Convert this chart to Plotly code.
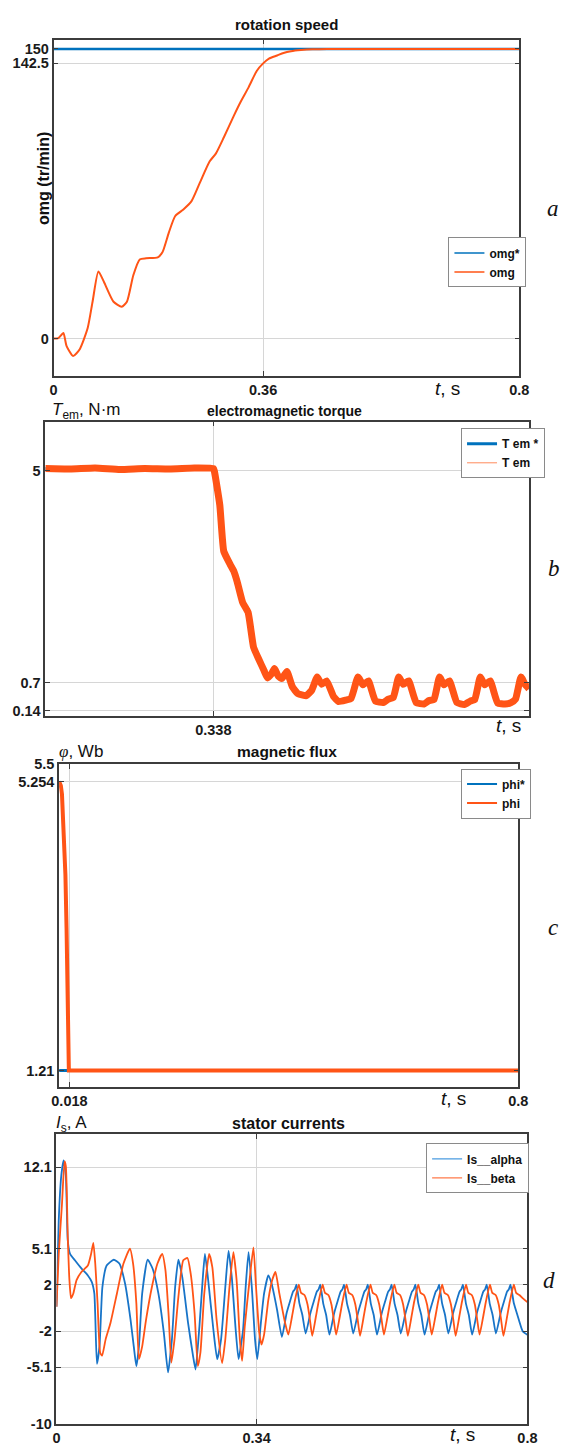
import plotly.graph_objects as go

W, H = 570, 1450


def fx(px):
    return px / W


def fy(py):
    return 1 - py / H


# ------------------------------------------------------------------ data
# (a) rotation speed
omg_ref_t = [0.0, 0.8]
omg_ref = [150, 150]
omg_t = [0.0, 0.0084, 0.0168, 0.0224, 0.0335, 0.0447, 0.0586, 0.067, 0.077, 0.0866,
         0.103, 0.117, 0.126, 0.137, 0.148, 0.159, 0.179, 0.187, 0.198, 0.209,
         0.223, 0.237, 0.251, 0.268, 0.279, 0.293, 0.310, 0.321, 0.335, 0.349,
         0.360, 0.370, 0.384, 0.395, 0.408, 0.425, 0.445, 0.47, 0.55, 0.65, 0.8]
omg = [0.0, 0.3, 2.9, -3.9, -9.0, -5.6, 5.5, 19.1, 34.8, 29.3,
       19.1, 16.5, 19.1, 32.8, 41.0, 41.6, 42.1, 44.7, 54.9, 63.5,
       66.9, 71.2, 80.5, 91.7, 95.9, 104.5, 115.6, 122.4, 130.1, 138.6,
       142.5, 145.0, 146.6, 147.9, 148.8, 149.4, 149.8, 150.0, 150.0, 150.0, 150.0]

# (b) electromagnetic torque
tem_t = [0, 0.05, 0.10, 0.15, 0.20, 0.25, 0.30, 0.338,
         0.340, 0.351, 0.359, 0.372, 0.379, 0.386, 0.397, 0.408, 0.419, 0.429,
         0.440, 0.447, 0.455, 0.461, 0.469, 0.476, 0.486, 0.497, 0.508, 0.518,
         0.525, 0.536, 0.547, 0.556, 0.566, 0.580, 0.590, 0.605, 0.615, 0.629,
         0.639, 0.650, 0.664, 0.680, 0.690, 0.700, 0.711, 0.720, 0.731, 0.746,
         0.762, 0.772, 0.782, 0.793, 0.802, 0.813, 0.828, 0.843, 0.855, 0.864,
         0.875, 0.884, 0.895, 0.910, 0.925, 0.937, 0.946, 0.957, 0.965, 0.973]
tem = [5.05, 5.04, 5.06, 5.03, 5.05, 5.04, 5.06, 5.05,
       5.0, 4.31, 3.37, 3.10, 2.97, 2.75, 2.33, 2.13, 1.42, 1.19,
       0.95, 0.80, 0.88, 0.99, 0.83, 0.79, 0.93, 0.62, 0.48, 0.45,
       0.44, 0.55, 0.82, 0.67, 0.74, 0.42, 0.32, 0.35, 0.38, 0.82,
       0.66, 0.74, 0.33, 0.30, 0.37, 0.40, 0.82, 0.67, 0.74, 0.30,
       0.27, 0.34, 0.36, 0.82, 0.66, 0.74, 0.30, 0.26, 0.33, 0.36,
       0.82, 0.66, 0.74, 0.29, 0.27, 0.30, 0.37, 0.82, 0.67, 0.58]

# (c) magnetic flux
phi_ref_t = [0.0, 0.8]
phi_ref = [1.21, 1.21]
phi_t = [0.0, 0.003, 0.005, 0.008, 0.011, 0.013, 0.015, 0.0165, 0.017, 0.8]
phi = [5.254, 5.20, 5.08, 4.64, 3.95, 3.20, 2.20, 1.40, 1.21, 1.21]

# (d) stator currents
ia_t = [0.000, 0.0038, 0.0082, 0.0121, 0.0159, 0.0192, 0.0231, 0.0313, 0.0423, 0.0533,
        0.0599, 0.0643, 0.0687, 0.0731, 0.0780, 0.0852, 0.0973, 0.1071, 0.1165, 0.1258,
        0.1313, 0.1357, 0.1401, 0.1456, 0.1549, 0.1632, 0.1731, 0.1824, 0.1895, 0.1961,
        0.2016, 0.2071, 0.2137, 0.2236, 0.2319, 0.2363, 0.2428, 0.2483, 0.2522, 0.2577,
        0.2665, 0.2730, 0.2796, 0.2868, 0.2923, 0.2978, 0.3044, 0.3093, 0.3170, 0.3214,
        0.3263, 0.3318, 0.3373, 0.3412, 0.3472, 0.3527, 0.3599, 0.3654, 0.3747,
        0.3829, 0.3909, 0.3969, 0.4019, 0.4049, 0.4077, 0.4127, 0.4177,
        0.4233, 0.4313, 0.4373, 0.4423, 0.4453, 0.4481, 0.4531, 0.4581,
        0.4637, 0.4717, 0.4777, 0.4827, 0.4857, 0.4885, 0.4935, 0.4985,
        0.5041, 0.5121, 0.5181, 0.5231, 0.5261, 0.5289, 0.5339, 0.5389,
        0.5445, 0.5525, 0.5585, 0.5635, 0.5665, 0.5693, 0.5743, 0.5793,
        0.5849, 0.5929, 0.5989, 0.6039, 0.6069, 0.6097, 0.6147, 0.6197,
        0.6253, 0.6333, 0.6393, 0.6443, 0.6473, 0.6501, 0.6551, 0.6601,
        0.6657, 0.6737, 0.6797, 0.6847, 0.6877, 0.6905, 0.6955, 0.7005,
        0.7061, 0.7141, 0.7201, 0.7251, 0.7281, 0.7309, 0.7359, 0.7409,
        0.7465, 0.7545, 0.7605, 0.7655, 0.7685, 0.7713, 0.7770, 0.7830,
        0.7920, 0.8000]
ia = [0.1, 7.5, 11.4, 12.7, 11.4, 5.8, 4.65, 4.1, 3.4, 2.8,
      2.25, 1.25, -4.8, -3.3, 1.8, 3.65, 4.15, 3.8, 2.1, -1.0,
      -3.3, -5.0, -3.3, 1.25, 4.15, 3.4, 1.25, -2.15, -5.55, -2.7,
      1.8, 4.15, 2.65, -1.3, -4.1, -5.3, -1.6, 2.4, 4.65, 2.4,
      -1.85, -4.4, -2.7, 1.8, 4.9, 2.65, -1.85, -4.4, -1.85, 1.8,
      4.8, 1.8, -2.7, -4.4, -1.3, 1.25, 2.8, 2.1, -0.15,
      -2.5, -0.45, 0.6, 1.4, 1.6, 2.0, 0.4, -0.6,
      -2.2, -0.45, 0.6, 1.4, 1.6, 2.0, 0.4, -0.6,
      -2.3, -0.45, 0.6, 1.4, 1.6, 2.0, 0.4, -0.6,
      -2.2, -0.45, 0.6, 1.4, 1.6, 2.0, 0.4, -0.6,
      -2.3, -0.45, 0.6, 1.4, 1.6, 2.0, 0.4, -0.6,
      -2.2, -0.45, 0.6, 1.4, 1.6, 2.0, 0.4, -0.6,
      -2.3, -0.45, 0.6, 1.4, 1.6, 2.0, 0.4, -0.6,
      -2.2, -0.45, 0.6, 1.4, 1.6, 2.0, 0.4, -0.6,
      -2.3, -0.45, 0.6, 1.4, 1.6, 2.0, 0.4, -0.6,
      -2.2, -0.45, 0.6, 1.4, 1.6, 2.0, 0.4, -0.6,
      -2.0, -2.3]

ib_t = [0.000, 0.0038, 0.0093, 0.0137, 0.0159, 0.0192, 0.0220, 0.0247, 0.0286, 0.0341,
        0.0423, 0.0533, 0.0588, 0.0626, 0.0659, 0.0698, 0.0742, 0.0775, 0.0835, 0.0917,
        0.1027, 0.1137, 0.1247, 0.1302, 0.1357, 0.1401, 0.1456, 0.1522, 0.1621, 0.1714,
        0.1796, 0.1851, 0.1906, 0.1951, 0.2005, 0.2071, 0.2154, 0.2225, 0.2280, 0.2346,
        0.2401, 0.2445, 0.2511, 0.2593, 0.2648, 0.2720, 0.2813, 0.2868, 0.2939, 0.3005,
        0.3060, 0.3115, 0.3154, 0.3198, 0.3280, 0.3346, 0.3390, 0.3445, 0.3483, 0.3527,
        0.3599, 0.3665, 0.3720, 0.3786, 0.3884,
        0.3939, 0.3999, 0.4049, 0.4115, 0.4155, 0.4215, 0.4265, 0.4305,
        0.4345, 0.4405, 0.4455, 0.4521, 0.4561, 0.4621, 0.4671, 0.4711,
        0.4751, 0.4811, 0.4861, 0.4927, 0.4967, 0.5027, 0.5077, 0.5117,
        0.5157, 0.5217, 0.5267, 0.5333, 0.5373, 0.5433, 0.5483, 0.5523,
        0.5563, 0.5623, 0.5673, 0.5739, 0.5779, 0.5839, 0.5889, 0.5929,
        0.5969, 0.6029, 0.6079, 0.6145, 0.6185, 0.6245, 0.6295, 0.6335,
        0.6375, 0.6435, 0.6485, 0.6551, 0.6591, 0.6651, 0.6701, 0.6741,
        0.6781, 0.6841, 0.6891, 0.6957, 0.6997, 0.7057, 0.7107, 0.7147,
        0.7187, 0.7247, 0.7297, 0.7363, 0.7403, 0.7463, 0.7513, 0.7553,
        0.7593, 0.7653, 0.7703, 0.7769, 0.7809, 0.7869, 0.7930, 0.8000]
ib = [0.1, 4.65, 8.9, 12.6, 12.2, 6.1, 2.4, 0.85, 1.25, 2.4,
      3.1, 3.65, 4.65, 5.6, 3.8, 0.4, -3.85, -4.1, -2.7, -1.3,
      1.25, 3.8, 5.1, 3.8, 0.4, -4.4, -3.3, -1.0, 1.8, 3.8,
      4.65, 3.25, -0.7, -4.7, -2.7, 0.95, 4.1, 4.3, 2.95, -0.45,
      -5.0, -3.85, 1.25, 4.65, 3.5, -1.0, -4.75, -2.7, 1.8, 4.8,
      2.4, -2.7, -4.55, -1.6, 2.4, 5.2, 1.8, -2.15, -3.15, -2.3,
      0.7, 2.4, 3.1, 1.25, -1.3,
      -2.3, -0.8, 0.6, 2.0, 1.3, 1.1, 0.3, -1.0,
      -2.4, -0.8, 0.6, 2.0, 1.3, 1.1, 0.3, -1.0,
      -2.3, -0.8, 0.6, 2.0, 1.3, 1.1, 0.3, -1.0,
      -2.4, -0.8, 0.6, 2.0, 1.3, 1.1, 0.3, -1.0,
      -2.3, -0.8, 0.6, 2.0, 1.3, 1.1, 0.3, -1.0,
      -2.4, -0.8, 0.6, 2.0, 1.3, 1.1, 0.3, -1.0,
      -2.3, -0.8, 0.6, 2.0, 1.3, 1.1, 0.3, -1.0,
      -2.4, -0.8, 0.6, 2.0, 1.3, 1.1, 0.3, -1.0,
      -2.3, -0.8, 0.6, 2.0, 1.3, 1.1, 0.3, -1.0,
      -2.4, -0.8, 0.6, 2.0, 1.3, 1.1, 0.8, 0.5]

# tick values / labels
a_xticks = [0, 0.36, 0.8]
a_yticks = [0, 142.5, 150]
b_xticks = [0.338]
b_yticks = [0.14, 0.7, 5]
c_xticks = [0.018, 0.8]
c_yticks = [1.21, 5.254, 5.5]
d_xticks = [0, 0.34, 0.8]
d_yticks = [-10, -5.1, -2, 2, 5.1, 12.1]

# ------------------------------------------------------------------ style
BLUE = "#0072BD"
ORANGE = "#FF5416"
AX = "#3c3c3c"
GRID = "#d6d6d6"
TICKFONT = dict(family="Liberation Sans, Arial", size=14.5, color="#1a1a1a", weight="bold")
LBLFONT = dict(family="Liberation Sans, Arial", size=17, color="#111")

fig = go.Figure()


def legend_entry(name, color, width, leg, xa, ya):
    # legend-only sample line (no data points)
    fig.add_trace(go.Scatter(x=[None], y=[None], name=name, mode="lines",
                             line=dict(color=color, width=width),
                             xaxis=xa, yaxis=ya, legend=leg, showlegend=True))


# (a)
fig.add_trace(go.Scatter(x=omg_ref_t, y=omg_ref, mode="lines", showlegend=False,
                         line=dict(color=BLUE, width=2.5), xaxis="x", yaxis="y"))
fig.add_trace(go.Scatter(x=omg_t, y=omg, mode="lines", showlegend=False,
                         line=dict(color=ORANGE, width=2, shape="spline", smoothing=0.6),
                         xaxis="x", yaxis="y"))
legend_entry("omg*", BLUE, 1.5, "legend", "x", "y")
legend_entry("omg", ORANGE, 1.5, "legend", "x", "y")

# (b)
fig.add_trace(go.Scatter(x=tem_t, y=tem, mode="lines", showlegend=False,
                         line=dict(color=BLUE, width=3), xaxis="x2", yaxis="y2"))
fig.add_trace(go.Scatter(x=tem_t, y=tem, mode="lines", showlegend=False,
                         line=dict(color=ORANGE, width=7, shape="spline", smoothing=0.4),
                         xaxis="x2", yaxis="y2"))
legend_entry("T em *", BLUE, 3, "legend2", "x2", "y2")
legend_entry("T em", "#FF8a5c", 1, "legend2", "x2", "y2")

# (c)
fig.add_trace(go.Scatter(x=phi_ref_t, y=phi_ref, mode="lines", showlegend=False,
                         line=dict(color=BLUE, width=3), xaxis="x3", yaxis="y3"))
fig.add_trace(go.Scatter(x=phi_t, y=phi, mode="lines", showlegend=False,
                         line=dict(color=ORANGE, width=4), xaxis="x3", yaxis="y3"))
legend_entry("phi*", BLUE, 1.8, "legend3", "x3", "y3")
legend_entry("phi", ORANGE, 1.8, "legend3", "x3", "y3")

# (d)
fig.add_trace(go.Scatter(x=ia_t, y=ia, mode="lines", showlegend=False,
                         line=dict(color="#1874C8", width=1.8, shape="spline", smoothing=0.5),
                         xaxis="x4", yaxis="y4"))
fig.add_trace(go.Scatter(x=ib_t, y=ib, mode="lines", showlegend=False,
                         line=dict(color=ORANGE, width=1.8, shape="spline", smoothing=0.5),
                         xaxis="x4", yaxis="y4"))
legend_entry("Is__alpha", "#4a9be0", 1.2, "legend4", "x4", "y4")
legend_entry("Is__beta", "#FF7a4a", 1.2, "legend4", "x4", "y4")


def axis(domain, rng, ticks, anchor):
    return dict(domain=domain, range=rng, tickmode="array", tickvals=ticks,
                ticktext=[str(t) for t in ticks], anchor=anchor,
                showline=True, linecolor=AX, linewidth=1.5, mirror="ticks",
                ticks="inside", ticklen=5, tickcolor=AX, tickwidth=1.2,
                showgrid=True, gridcolor=GRID, gridwidth=1, zeroline=False,
                tickfont=TICKFONT, fixedrange=True)


layout = dict(
    width=W, height=H, margin=dict(l=0, r=0, t=0, b=0),
    paper_bgcolor="white", plot_bgcolor="white", showlegend=True,
    xaxis=axis([fx(48), fx(528)], [0, 0.8], a_xticks, "y"),
    yaxis=axis([fy(372), fy(32)], [-19.3, 154.8], a_yticks, "x"),
    xaxis2=axis([fx(39.5), fx(538)], [0, 0.973], b_xticks, "y2"),
    yaxis2=axis([fy(716), fy(418.3)], [0.025, 6.0], b_yticks, "x2"),
    xaxis3=axis([fx(53.7), fx(527)], [0, 0.8], c_xticks, "y3"),
    yaxis3=axis([fy(1090.7), fy(764.3)], [0.983, 5.503], c_yticks, "x3"),
    xaxis4=axis([fx(51), fx(536.4)], [0, 0.8], d_xticks, "y4"),
    yaxis4=axis([fy(1432), fy(1139)], [-10, 14.93], d_yticks, "x4"),
)

LEGFONT = dict(family="Liberation Sans, Arial", size=12, color="#111", weight="bold")


def legend(x, y):
    return dict(x=fx(x), y=fy(y), xanchor="left", yanchor="top", bgcolor="white",
                bordercolor="#8a8a8a", borderwidth=1, font=LEGFONT, itemwidth=30,
                tracegroupgap=0)


layout["legend"] = legend(455, 232)
layout["legend2"] = legend(468, 425)
layout["legend3"] = legend(468, 769)
layout["legend4"] = legend(432, 1148)

ann = []


def text(x, y, s, font, xanchor="center", angle=0):
    ann.append(dict(x=fx(x), y=fy(y), xref="paper", yref="paper", text=s, showarrow=False,
                    xanchor=xanchor, yanchor="middle", font=font, textangle=angle))


TITLE = dict(family="Liberation Sans, Arial", color="#111", weight="bold")
text(288, 17, "rotation speed", dict(TITLE, size=15))
text(286, 407, "electromagnetic torque", dict(TITLE, size=14))
text(289, 752, "magnetic flux", dict(TITLE, size=15.5))
text(290, 1128, "stator currents", dict(TITLE, size=16))

text(37, 172, "omg (tr/min)", dict(TITLE, size=16), angle=-90)
text(44, 407, "<i>T</i><sub>em</sub>, N·m", LBLFONT, xanchor="left")
text(52, 752, "<span style='font-family:Liberation Serif'><i>φ</i></span>, Wb", LBLFONT, xanchor="left")
text(48, 1128, "<i>I</i><sub>s</sub>, A", LBLFONT, xanchor="left")

TS = dict(family="Liberation Sans, Arial", size=19, color="#111")
text(454, 385, "<i>t</i>, s", TS)
text(517, 725, "<i>t</i>, s", TS)
text(460, 1103, "<i>t</i>, s", TS)
text(470, 1442, "<i>t</i>, s", TS)

LET = dict(family="Liberation Serif, Times New Roman", size=23, color="#111")
text(563, 203, "<i>a</i>", LET)
text(564, 567, "<i>b</i>", LET)
text(563, 930, "<i>c</i>", LET)
text(559, 1287, "<i>d</i>", LET)

layout["annotations"] = ann
fig.update_layout(**layout)
fig.write_html("out.html")
